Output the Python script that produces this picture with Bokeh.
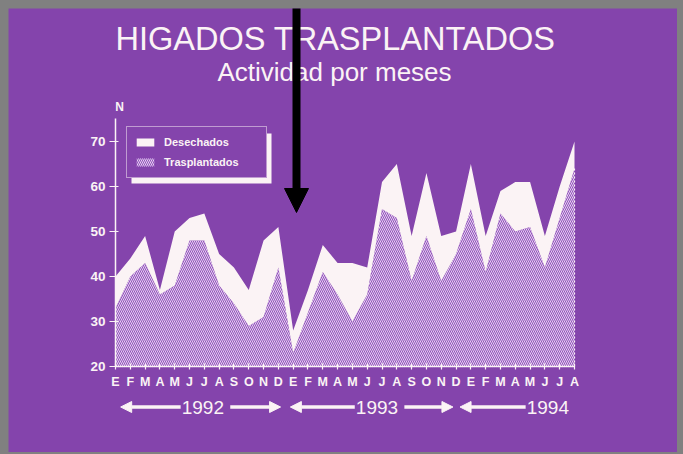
from bokeh.plotting import figure
from bokeh.models import (Range1d, FixedTicker, Label, Arrow, NormalHead,
                          Legend, LegendItem, BoxAnnotation)
from bokeh.embed import file_html
from bokeh.resources import INLINE

# ---------------- data ----------------
month_labels = ["E", "F", "M", "A", "M", "J", "J", "A", "S", "O", "N", "D",
                "E", "F", "M", "A", "M", "J", "J", "A", "S", "O", "N", "D",
                "E", "F", "M", "A", "M", "J", "J", "A"]
trasplantados = [33, 40, 43, 36, 38, 48, 48, 38, 34, 29, 31, 42,
                 23, 32, 41, 36, 30, 36, 55, 53, 39, 49, 39, 45,
                 55, 41, 54, 50, 51, 42, 53, 64]
desechados = [7, 4, 6, 1, 12, 5, 6, 7, 8, 8, 17, 9,
              5, 5, 6, 7, 13, 6, 6, 12, 10, 14, 10, 5,
              10, 8, 5, 11, 10, 7, 7, 6]
years = ["1992", "1993", "1994"]
year_first = [0, 12, 24]
year_last = [11, 23, 31]
y_ticks = [20, 30, 40, 50, 60, 70]

title = "HIGADOS TRASPLANTADOS"
subtitle = "Actividad por meses"
y_label = "N"

# ---------------- style / layout ----------------
BG = "#8444ac"
WHITE = "#fbf3f5"
HATCH_FILL = "#9252bc"
FONT = "Liberation Sans"

W, H = 669, 444
PX_X = 459 / 31.0          # px per month
PX_Y = 4.5                 # px per unit
X0_PX, Y20_PX = 107, 358   # canvas position of (month 0, value 20)

x = list(range(len(month_labels)))
total = [t + d for t, d in zip(trasplantados, desechados)]
y_base = y_ticks[0]
y_top = 75.1

p = figure(width=W, height=H, output_backend="svg", toolbar_location=None,
           x_range=Range1d(-X0_PX / PX_X, (W - X0_PX) / PX_X),
           y_range=Range1d(y_base - (H - Y20_PX) / PX_Y, y_base + Y20_PX / PX_Y),
           min_border=0, min_border_left=0, min_border_right=0,
           min_border_top=0, min_border_bottom=0)
p.background_fill_color = BG
p.border_fill_color = BG
p.outline_line_color = None
p.grid.visible = False

r_tr = p.varea(x=x, y1=[y_base] * len(x), y2=trasplantados, fill_color=HATCH_FILL,
               hatch_pattern="\\", hatch_color="#eee0f5", hatch_alpha=0.9,
               hatch_scale=4, hatch_weight=1)
r_de = p.varea(x=x, y1=trasplantados, y2=total, fill_color=WHITE)
# dashed right edge of the hatched area
p.segment(x0=[x[-1]], y0=[y_base], x1=[x[-1]], y1=[trasplantados[-1]],
          line_color=WHITE, line_width=1.2, line_dash="2 2")

# axes drawn inside the frame at fixed locations
for ax in (p.xaxis[0], p.yaxis[0]):
    ax.axis_line_color = WHITE
    ax.axis_line_width = 1.5
    ax.major_tick_line_color = WHITE
    ax.major_tick_line_width = 1.2
    ax.minor_tick_line_color = None
    ax.major_label_text_color = WHITE
    ax.major_label_text_font = FONT
    ax.major_label_text_font_style = "bold"

p.xaxis.fixed_location = y_base
p.xaxis.bounds = (0, len(x) - 1)
p.xaxis.ticker = FixedTicker(ticks=x)
p.xaxis.major_label_overrides = {i: m for i, m in zip(x, month_labels)}
p.xaxis.major_tick_in = 3
p.xaxis.major_tick_out = 3
p.xaxis.major_label_standoff = 5
p.xaxis.major_label_text_font_size = "12.5px"

p.yaxis.fixed_location = 0
p.yaxis.bounds = (y_base, y_top)
p.yaxis.ticker = FixedTicker(ticks=y_ticks)
p.yaxis.major_tick_in = 3
p.yaxis.major_tick_out = 6
p.yaxis.major_label_standoff = 4
p.yaxis.major_label_text_font_size = "13.5px"

# titles (screen units, origin at bottom-left of the canvas)
p.add_layout(Label(x=327, y=H - 30, x_units="screen", y_units="screen", text=title,
                   text_align="center", text_baseline="middle",
                   text_font=FONT, text_font_size="32.5px", text_color=WHITE))
p.add_layout(Label(x=326, y=H - 63, x_units="screen", y_units="screen", text=subtitle,
                   text_align="center", text_baseline="middle",
                   text_font=FONT, text_font_size="26px", text_color=WHITE))
p.add_layout(Label(x=111, y=H - 98, x_units="screen", y_units="screen", text=y_label,
                   text_align="center", text_baseline="middle",
                   text_font=FONT, text_font_style="bold", text_font_size="12px",
                   text_color=WHITE))

# year arrows
yr_y = y_base - 9.0
for yr, a, b in zip(years, year_first, year_last):
    full = (b - a) == 11
    c = (a + b) / 2 + 0.4 - 0.02 * a if full else b - 1.8
    p.add_layout(Label(x=c, y=yr_y, text=yr, text_align="center",
                       text_baseline="middle", text_font=FONT,
                       text_font_size="19px", text_color=WHITE))
    p.add_layout(Arrow(x_start=c - 1.5, y_start=yr_y, x_end=a + 0.35 - 0.045 * a,
                       y_end=yr_y, line_color=WHITE, line_width=3.5,
                       end=NormalHead(size=11, fill_color=WHITE, line_color=WHITE)))
    if full:
        p.add_layout(Arrow(x_start=c + 1.85, y_start=yr_y, x_end=b + 0.15 - 0.03 * a,
                           y_end=yr_y, line_color=WHITE, line_width=3.5,
                           end=NormalHead(size=11, fill_color=WHITE, line_color=WHITE)))

# legend shadow + legend
p.add_layout(BoxAnnotation(left=123, right=263, bottom=H - 175, top=H - 125,
                           left_units="screen", right_units="screen",
                           bottom_units="screen", top_units="screen",
                           fill_color=WHITE, fill_alpha=1, line_color=None))
legend = Legend(items=[LegendItem(label="Desechados", renderers=[r_de]),
                       LegendItem(label="Trasplantados", renderers=[r_tr])],
                location=(118, H - 170), orientation="vertical")
legend.background_fill_color = BG
legend.background_fill_alpha = 1
legend.border_line_color = WHITE
legend.border_line_width = 1.5
legend.label_text_color = WHITE
legend.label_text_font = FONT
legend.label_text_font_style = "bold"
legend.label_text_font_size = "11px"
legend.glyph_width = 22
legend.glyph_height = 10
legend.label_height = 16
legend.label_width = 95
legend.label_standoff = 8
legend.spacing = 4
legend.padding = 7
legend.margin = 0
p.add_layout(legend, "center")

# black pointer arrow overlay
p.add_layout(Arrow(x_start=288, y_start=H + 2, x_end=288, y_end=H - 204,
                   start_units="screen", end_units="screen",
                   line_color="black", line_width=8,
                   end=NormalHead(size=24, fill_color="black", line_color="black")))

html = file_html(p, INLINE)
html = html.replace(
    "<head>",
    "<head><style>html,body{background:#808080 !important;}"
    "body{padding:8px !important;margin:0 !important;}</style>", 1)
open("out.html", "w").write(html)
